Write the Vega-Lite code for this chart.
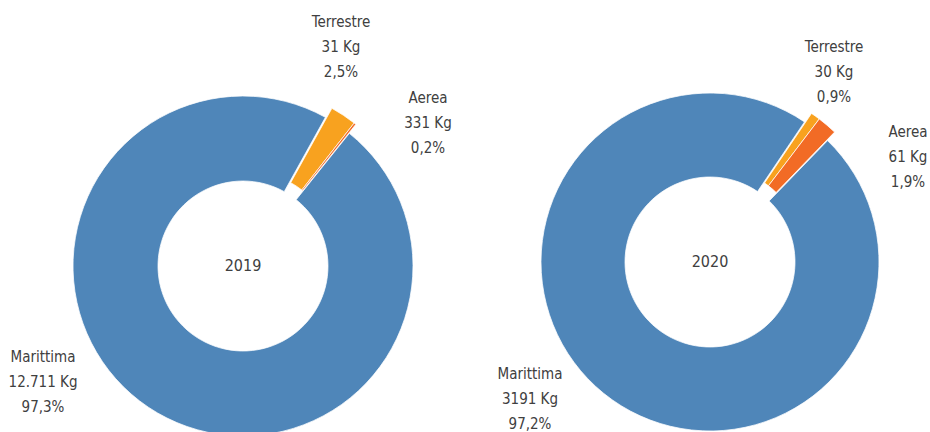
{
  "$schema": "https://vega.github.io/schema/vega-lite/v6.json",
  "width": 930,
  "height": 432,
  "autosize": {"type": "none"},
  "padding": 0,
  "background": "#ffffff",
  "config": {"view": {"stroke": null}, "text": {"font": "'DejaVu Sans Condensed', 'DejaVu Sans', sans-serif", "fontSize": 15, "color": "#404040"}},
  "data": {
    "values": [
      {"year": "2019", "mode": "Terrestre", "pct": 2.5, "kg": "31 Kg", "pctLabel": "2,5%", "ord": 1},
      {"year": "2019", "mode": "Aerea", "pct": 0.2, "kg": "331 Kg", "pctLabel": "0,2%", "ord": 2},
      {"year": "2019", "mode": "Marittima", "pct": 97.3, "kg": "12.711 Kg", "pctLabel": "97,3%", "ord": 3},
      {"year": "2020", "mode": "Terrestre", "pct": 0.9, "kg": "30 Kg", "pctLabel": "0,9%", "ord": 1},
      {"year": "2020", "mode": "Aerea", "pct": 1.9, "kg": "61 Kg", "pctLabel": "1,9%", "ord": 2},
      {"year": "2020", "mode": "Marittima", "pct": 97.2, "kg": "3191 Kg", "pctLabel": "97,2%", "ord": 3}
    ]
  },
  "transform": [
    {"stack": "pct", "groupby": ["year"], "sort": [{"field": "ord", "order": "ascending"}], "as": ["v0", "v1"]},
    {"calculate": "datum.mode + '\\n' + datum.kg + '\\n' + datum.pctLabel", "as": "label"}
  ],
  "encoding": {
    "x": {"field": "year", "type": "nominal", "scale": {"type": "point", "range": [243, 710], "padding": 0}, "axis": null},
    "y": {"field": "year", "type": "nominal", "scale": {"type": "point", "range": [266, 262], "padding": 0}, "axis": null}
  },
  "layer": [
    {
      "transform": [{"filter": "datum.year == '2019' && datum.mode == 'Marittima'"}],
      "mark": {"type": "arc", "outerRadius": 170, "innerRadius": 85, "stroke": "#ffffff", "strokeWidth": 0.75},
      "encoding": {
        "theta": {"field": "v0", "type": "quantitative", "scale": {"domain": [0, 100], "range": [0.5061, 6.7893]}},
        "theta2": {"field": "v1"},
        "color": {"field": "mode", "type": "nominal", "scale": {"domain": ["Marittima", "Terrestre", "Aerea"], "range": ["#4f86b9", "#f8a21f", "#f26b25"]}, "legend": null}
      }
    },
    {
      "transform": [{"filter": "datum.year == '2019' && datum.mode != 'Marittima'"}],
      "mark": {"type": "arc", "outerRadius": 170, "innerRadius": 85, "stroke": "#ffffff", "strokeWidth": 0.75, "xOffset": 6.5, "yOffset": -9},
      "encoding": {
        "theta": {"field": "v0", "type": "quantitative", "scale": {"domain": [0, 100], "range": [0.5061, 6.7893]}},
        "theta2": {"field": "v1"},
        "color": {"field": "mode", "type": "nominal", "scale": {"domain": ["Marittima", "Terrestre", "Aerea"], "range": ["#4f86b9", "#f8a21f", "#f26b25"]}, "legend": null}
      }
    },
    {
      "transform": [{"filter": "datum.year == '2020' && datum.mode == 'Marittima'"}],
      "mark": {"type": "arc", "outerRadius": 169, "innerRadius": 85, "stroke": "#ffffff", "strokeWidth": 0.75},
      "encoding": {
        "theta": {"field": "v0", "type": "quantitative", "scale": {"domain": [0, 100], "range": [0.5934, 6.8766]}},
        "theta2": {"field": "v1"},
        "color": {"field": "mode", "type": "nominal", "scale": {"domain": ["Marittima", "Terrestre", "Aerea"], "range": ["#4f86b9", "#f8a21f", "#f26b25"]}, "legend": null}
      }
    },
    {
      "transform": [{"filter": "datum.year == '2020' && datum.mode != 'Marittima'"}],
      "mark": {"type": "arc", "outerRadius": 169, "innerRadius": 85, "stroke": "#ffffff", "strokeWidth": 0.75, "xOffset": 7, "yOffset": -8.5},
      "encoding": {
        "theta": {"field": "v0", "type": "quantitative", "scale": {"domain": [0, 100], "range": [0.5934, 6.8766]}},
        "theta2": {"field": "v1"},
        "color": {"field": "mode", "type": "nominal", "scale": {"domain": ["Marittima", "Terrestre", "Aerea"], "range": ["#4f86b9", "#f8a21f", "#f26b25"]}, "legend": null}
      }
    },
    {
      "transform": [{"filter": "datum.mode == 'Marittima'"}],
      "mark": {"type": "text", "fontSize": 16, "align": "center", "baseline": "middle"},
      "encoding": {"text": {"field": "year", "type": "nominal"}}
    },
    {
      "transform": [{"filter": "datum.year == '2019' && datum.mode == 'Terrestre'"}],
      "mark": {"type": "text", "align": "center", "baseline": "middle", "lineBreak": "\n", "lineHeight": 25, "dx": 98, "dy": -244},
      "encoding": {"text": {"field": "label", "type": "nominal"}}
    },
    {
      "transform": [{"filter": "datum.year == '2019' && datum.mode == 'Aerea'"}],
      "mark": {"type": "text", "align": "center", "baseline": "middle", "lineBreak": "\n", "lineHeight": 25, "dx": 185, "dy": -168},
      "encoding": {"text": {"field": "label", "type": "nominal"}}
    },
    {
      "transform": [{"filter": "datum.year == '2019' && datum.mode == 'Marittima'"}],
      "mark": {"type": "text", "align": "center", "baseline": "middle", "lineBreak": "\n", "lineHeight": 25, "dx": -200, "dy": 91},
      "encoding": {"text": {"field": "label", "type": "nominal"}}
    },
    {
      "transform": [{"filter": "datum.year == '2020' && datum.mode == 'Terrestre'"}],
      "mark": {"type": "text", "align": "center", "baseline": "middle", "lineBreak": "\n", "lineHeight": 25, "dx": 124, "dy": -215},
      "encoding": {"text": {"field": "label", "type": "nominal"}}
    },
    {
      "transform": [{"filter": "datum.year == '2020' && datum.mode == 'Aerea'"}],
      "mark": {"type": "text", "align": "center", "baseline": "middle", "lineBreak": "\n", "lineHeight": 25, "dx": 198, "dy": -130},
      "encoding": {"text": {"field": "label", "type": "nominal"}}
    },
    {
      "transform": [{"filter": "datum.year == '2020' && datum.mode == 'Marittima'"}],
      "mark": {"type": "text", "align": "center", "baseline": "middle", "lineBreak": "\n", "lineHeight": 25, "dx": -180, "dy": 112},
      "encoding": {"text": {"field": "label", "type": "nominal"}}
    }
  ],
  "resolve": {"scale": {"theta": "independent"}}
}
